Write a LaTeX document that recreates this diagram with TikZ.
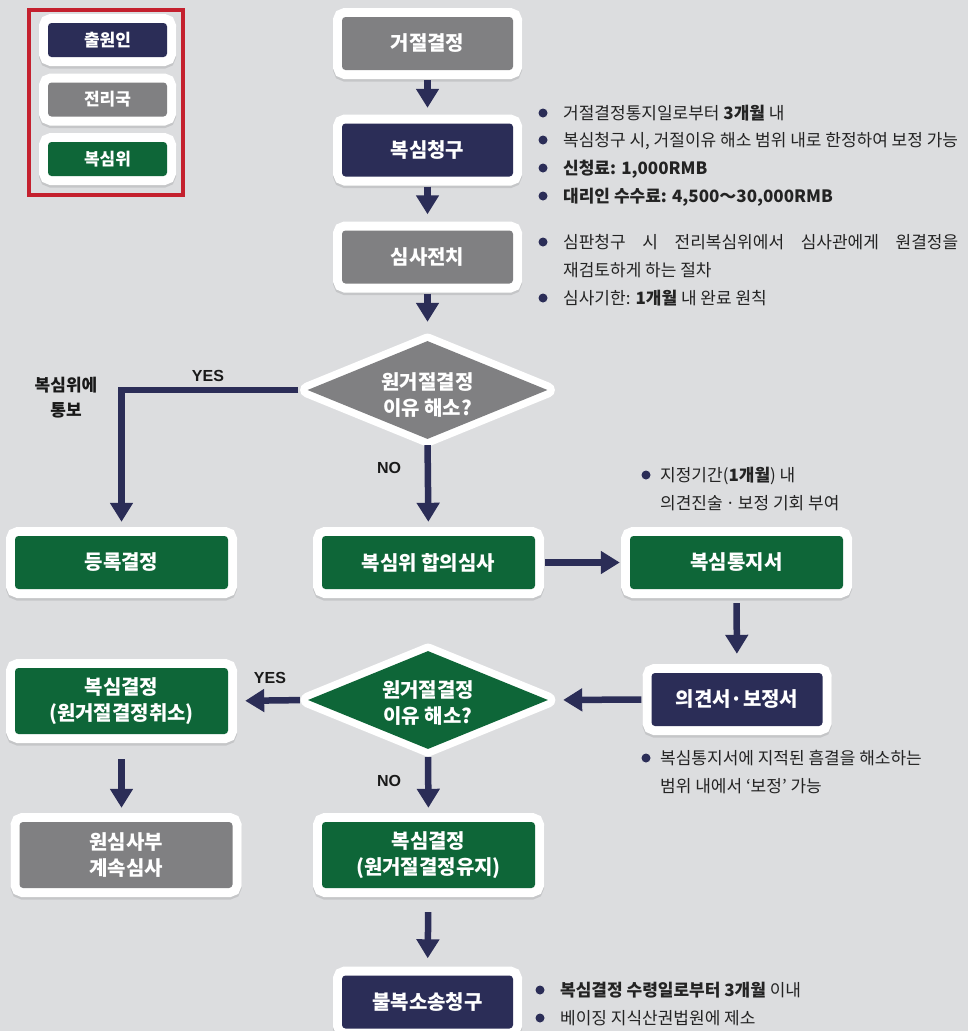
\documentclass[tikz,border=0pt]{standalone}
\usepackage{fontspec}
\newfontfamily\kr{Noto Sans CJK KR}
\newfontfamily\lat{Liberation Sans}
\usetikzlibrary{arrows.meta,shapes.geometric,calc}
\definecolor{bg}{RGB}{220,221,223}
\definecolor{navy}{RGB}{43,45,87}
\definecolor{gbox}{RGB}{128,128,130}
\definecolor{grn}{RGB}{14,102,56}
\definecolor{redb}{RGB}{196,32,46}
\definecolor{txt}{RGB}{35,35,35}
\tikzset{
  wbox/.style={rectangle, rounded corners=3.5pt, inner sep=0pt, text=white, align=center,
    font=\kr\bfseries\fontsize{20}{26}\selectfont,
    preaction={draw=black, draw opacity=0.10, line width=18pt, transform canvas={yshift=-2.5pt}},
    preaction={draw=white, line width=18pt}},
  mainbox/.style={wbox, minimum width=171pt, minimum height=53pt},
  widebox/.style={wbox, minimum width=213pt, minimum height=53pt},
  tallbox/.style={wbox, minimum width=213pt, minimum height=66pt},
  legbox/.style={wbox, minimum width=119pt, minimum height=34pt, font=\kr\bfseries\fontsize{17}{20}\selectfont},
  dia/.style={diamond, minimum width=240pt, minimum height=98pt, inner sep=0pt,
    preaction={draw=white, line width=15pt, line join=round}},
  dtext/.style={text=white, align=center, inner sep=0pt, font=\kr\bfseries\fontsize{20}{26}\selectfont},
  arr/.style={draw=navy, line width=6.5pt, -{Triangle[width=22pt,length=19pt]}},
  btxt/.style={anchor=base west, inner sep=0pt, text=txt, align=left, font=\kr\fontsize{17}{28}\selectfont},
  yn/.style={inner sep=0pt, text=black!90, font=\lat\bfseries\fontsize{16}{18}\selectfont},
  dot/.style={fill=navy}
}
\begin{document}
\begin{tikzpicture}[x=1pt,y=-1pt]
\fill[bg] (0,0) rectangle (968,1031);
\useasboundingbox (0,0) rectangle (968,1031);

% legend
\node[draw=redb, line width=4.5pt, minimum width=154pt, minimum height=185pt, inner sep=0pt] (legend) at (106,102.5) {};
\node[legbox, fill=navy] (L1) at (107.5,40) {출원인};
\node[legbox, fill=gbox] (L2) at (107.5,99.5) {전리국};
\node[legbox, fill=grn] (L3) at (107.5,159) {복심위};

% main column
\node[mainbox, fill=gbox] (A) at (427.5,43.5) {거절결정};
\node[mainbox, fill=navy] (B) at (427.5,150) {복심청구};
\node[mainbox, fill=gbox] (C) at (427.5,257) {심사전치};
\node[dia, fill=gbox] (d1) at (427.5,390) {};
\node[dtext] (d1t) at (427.5,395) {원거절결정\\이유 해소?};

\node[widebox, fill=grn] (E) at (121.5,562.5) {등록결정};
\node[widebox, fill=grn] (F) at (428.5,562.5) {복심위 합의심사};
\node[widebox, fill=grn] (G) at (736.5,562.5) {복심통지서};
\node[mainbox, fill=navy] (H) at (737,699.5) {의견서·보정서};
\node[dia, fill=grn] (d2) at (428,700) {};
\node[dtext] (d2t) at (428,703) {원거절결정\\이유 해소?};
\node[tallbox, fill=grn] (I) at (121.5,701) {복심결정\\(원거절결정취소)};
\node[tallbox, fill=gbox] (J) at (126,855) {원심사부\\계속심사};
\node[tallbox, fill=grn] (K) at (428.5,855) {복심결정\\(원거절결정유지)};
\node[mainbox, fill=navy] (M) at (427.5,1002) {불복소송청구};

% connectors
\draw[arr, shorten <=10pt, shorten >=15.5pt] (A.south) -- (B.north);
\draw[arr, shorten <=10pt, shorten >=16pt] (B.south) -- (C.north);
\draw[arr, shorten <=10pt, shorten >=19pt] (C.south) -- (d1.north);
\draw[arr, shorten <=9pt, shorten >=14pt] (d1.west) -| (E.north);
\draw[arr, shorten <=6pt, shorten >=14pt] (d1.south) -- (F.north);
\draw[arr, shorten <=10pt, shorten >=10pt] (F.east) -- (G.west);
\draw[arr, shorten <=14pt, shorten >=19pt] (G.south) -- (H.north);
\draw[arr, shorten <=10pt, shorten >=15pt] (H.west) -- (d2.east);
\draw[arr, shorten <=8pt, shorten >=17pt] (d2.west) -- (I.east);
\draw[arr, shorten <=25pt, shorten >=14pt] (I.south) -- (I.south |- J.north);
\draw[arr, shorten <=8pt, shorten >=14pt] (d2.south) -- (K.north);
\draw[arr, shorten <=24pt, shorten >=17pt] (K.south) -- (M.north);

% connector labels
\node[yn] (yes1) at (208,376) {YES};
\node[yn] (no1) at (389,468) {NO};
\node[yn] (yes2) at (270,678) {YES};
\node[yn] (no2) at (389,781) {NO};
\node[inner sep=0pt, align=center, text=black!90, font=\kr\bfseries\fontsize{17}{25}\selectfont] (notify) at (66,398) {복심위에\\통보};

% bullets group 1
\fill[dot] (543,113) circle (4.5pt);
\fill[dot] (543,140) circle (4.5pt);
\fill[dot] (543,168) circle (4.5pt);
\fill[dot] (543,196) circle (4.5pt);
\node[btxt] (b1) at (563,119) {거절결정통지일로부터 \textbf{3개월} 내};
\node[btxt] (b2) at (563,146) {복심청구 시, 거절이유 해소 범위 내로 한정하여 보정 가능};
\node[btxt] (b3) at (563,174) {\textbf{신청료: 1,000RMB}};
\node[btxt] (b4) at (563,202) {\textbf{대리인 수수료: 4,500～30,000RMB}};

% bullets group 2
\fill[dot] (543,242) circle (4.5pt);
\fill[dot] (543,298) circle (4.5pt);
\node[btxt] (b5) at (563,276) {\makebox[395pt][s]{심판청구 시 전리복심위에서 심사관에게 원결정을}\\재검토하게 하는 절차};
\node[btxt] (b6) at (563,304) {심사기한: \textbf{1개월} 내 완료 원칙};

% bullets group 3
\fill[dot] (646,475) circle (4.5pt);
\node[btxt] (b7) at (660,509) {지정기간(\textbf{1개월}) 내\\의견진술\,·\,보정 기회 부여};

% bullets group 4
\fill[dot] (646,758) circle (4.5pt);
\node[btxt] (b8) at (660,792) {복심통지서에 지적된 흠결을 해소하는\\범위 내에서 ‘보정’ 가능};

% bullets group 5
\fill[dot] (540,990) circle (4.5pt);
\fill[dot] (540,1018) circle (4.5pt);
\node[btxt] (b9) at (560,996) {\textbf{복심결정 수령일로부터 3개월} 이내};
\node[btxt] (b10) at (560,1024) {베이징 지식산권법원에 제소};
\end{tikzpicture}
\end{document}
